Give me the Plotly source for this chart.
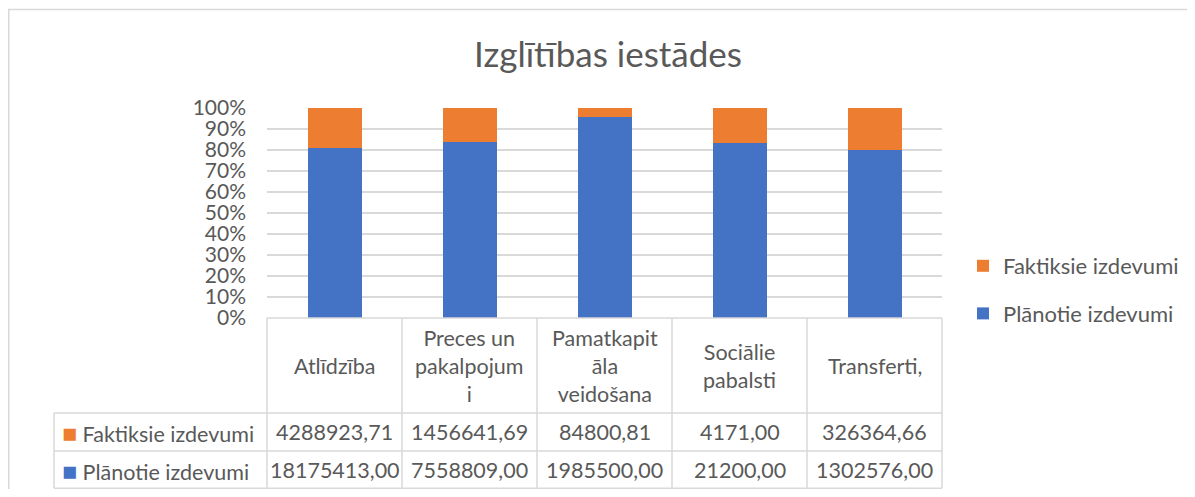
import plotly.graph_objects as go

# ---------------- data ----------------
title_text = "Izglītības iestādes"
categories = ["Atlīdzība", "Preces un pakalpojumi", "Pamatkapitāla veidošana",
              "Sociālie pabalsti", "Transferti,"]
category_labels = ["Atlīdzība", "Preces un<br>pakalpojum<br>i", "Pamatkapit<br>āla<br>veidošana",
                   "Sociālie<br>pabalsti", "Transferti,"]
planned_name = "Plānotie izdevumi"
actual_name = "Faktiksie izdevumi"
planned = [18175413.00, 7558809.00, 1985500.00, 21200.00, 1302576.00]
actual = [4288923.71, 1456641.69, 84800.81, 4171.00, 326364.66]

# ---------------- styling / layout constants ----------------
BLUE = "#4472C4"
ORANGE = "#ED7D31"
GRAY_TXT = "#595959"
GRID = "#D9D9D9"
FONT = "Lato"
W, H, OFF = 1179, 481, 8


def px(x):
    return (x - OFF) / W


def py(y):
    return 1 - (y - OFF) / H


x_dom = [px(267), px(942)]
y_dom = [py(318), py(108)]


def fmt(v):
    return f"{v:.2f}".replace(".", ",")


fig = go.Figure()
fig.add_trace(go.Bar(x=categories, y=planned, name=planned_name, marker_color=BLUE,
                     marker_line_width=0, legendgroup="p", legendrank=2))
fig.add_trace(go.Bar(x=categories, y=actual, name=actual_name, marker_color=ORANGE,
                     marker_line_width=0, legendgroup="a", legendrank=1))

shapes = []
annotations = []

# table geometry derived from the x axis domain
n = len(categories)
col_edges = [x_dom[0] + (x_dom[1] - x_dom[0]) * i / n for i in range(n + 1)]
left_edge = px(54)
row_lines = [py(413), py(451), py(488.2)]
header_top = y_dom[0]
line_style = dict(color=GRID, width=1.5)

for yv in row_lines:
    shapes.append(dict(type="line", xref="paper", yref="paper", x0=left_edge, x1=col_edges[-1],
                       y0=yv, y1=yv, line=line_style, layer="above"))
shapes.append(dict(type="line", xref="paper", yref="paper", x0=col_edges[0], x1=col_edges[-1],
                   y0=header_top, y1=header_top, line=line_style, layer="above"))
shapes.append(dict(type="line", xref="paper", yref="paper", x0=left_edge, x1=left_edge,
                   y0=row_lines[0], y1=row_lines[-1], line=line_style, layer="above"))
for xe in col_edges:
    shapes.append(dict(type="line", xref="paper", yref="paper", x0=xe, x1=xe,
                       y0=header_top, y1=row_lines[-1], line=line_style, layer="above"))

# chart frame
shapes.append(dict(type="rect", xref="paper", yref="paper", x0=px(8.75), x1=1.05,
                   y0=-0.1, y1=py(9.5), line=dict(color=GRID, width=1.5), layer="below"))

tfont = dict(family=FONT, size=21.5, color=GRAY_TXT)
header_mid = (header_top + row_lines[0]) / 2
row1_mid = (row_lines[0] + row_lines[1]) / 2
row2_mid = (row_lines[1] + row_lines[2]) / 2

for cat, lab, a, p in zip(categories, category_labels, actual, planned):
    annotations.append(dict(x=cat, xref="x", y=header_mid, yref="paper", text=lab,
                            showarrow=False, font=tfont, xanchor="center", yanchor="middle"))
    annotations.append(dict(x=cat, xref="x", y=row1_mid, yref="paper", text=fmt(a),
                            showarrow=False, font=tfont, xanchor="center", yanchor="middle"))
    annotations.append(dict(x=cat, xref="x", y=row2_mid, yref="paper", text=fmt(p),
                            showarrow=False, font=tfont, xanchor="center", yanchor="middle"))

for name, color, ymid in [(actual_name, ORANGE, row1_mid), (planned_name, BLUE, row2_mid)]:
    annotations.append(dict(x=px(60), xref="paper", y=ymid, yref="paper",
                            text=f'<span style="color:{color};font-size:25px">■</span> {name}',
                            showarrow=False, font=tfont, xanchor="left", yanchor="middle"))

fig.update_layout(
    width=W, height=H,
    autosize=False,
    margin=dict(l=0, r=0, t=0, b=0, pad=0, autoexpand=False),
    paper_bgcolor="white", plot_bgcolor="white",
    barmode="stack", barnorm="percent", bargap=0.6,
    title=dict(text=title_text, x=px(608), y=py(55), xanchor="center", yanchor="middle",
               xref="container", yref="container", automargin=False,
               font=dict(family=FONT, size=35, color=GRAY_TXT)),
    xaxis=dict(domain=x_dom, type="category", showticklabels=False, showgrid=False,
               zeroline=False, showline=False, ticks="", automargin=False),
    yaxis=dict(domain=y_dom, range=[0, 100], dtick=10, ticksuffix="%", showgrid=True,
               gridcolor=GRID, gridwidth=1.5, zeroline=False, showline=False, ticks="",
               automargin=False,
               tickfont=dict(family=FONT, size=21, color=GRAY_TXT), ticklabelstandoff=20),
    legend=dict(x=px(963), y=py(290), xanchor="left", yanchor="middle",
                traceorder="grouped", tracegroupgap=16,
                font=dict(family=FONT, size=22, color=GRAY_TXT), bgcolor="rgba(0,0,0,0)"),
    shapes=shapes, annotations=annotations,
    hovermode=False,
)

fig.write_html("out.html")
